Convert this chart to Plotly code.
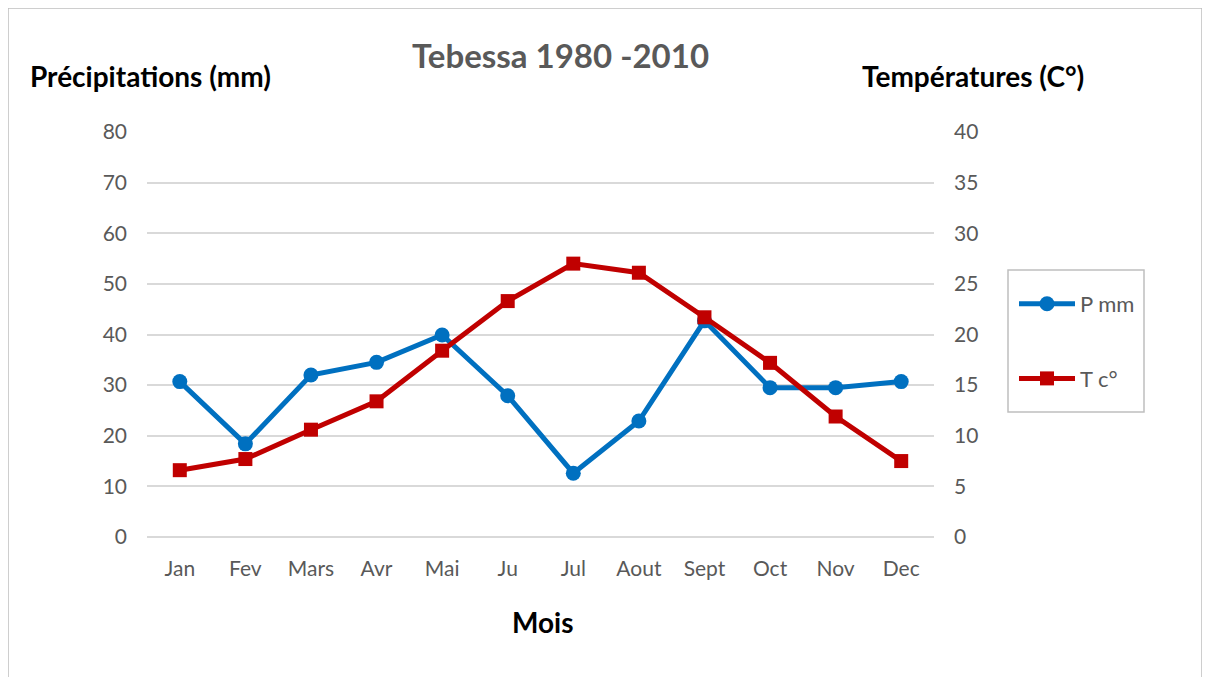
import plotly.graph_objects as go

months = ["Jan", "Fev", "Mars", "Avr", "Mai", "Ju", "Jul", "Aout", "Sept", "Oct", "Nov", "Dec"]
p_mm = [30.7, 18.4, 32.0, 34.5, 39.9, 27.9, 12.6, 22.9, 42.7, 29.5, 29.5, 30.7]
t_c = [6.6, 7.7, 10.6, 13.4, 18.4, 23.3, 27.0, 26.1, 21.7, 17.2, 11.9, 7.5]

FONT = "Lato"
GRAY = "#595959"

fig = go.Figure()
fig.add_trace(go.Scatter(
    x=months, y=p_mm, name="P mm", mode="lines+markers",
    line=dict(color="#0070C0", width=5),
    marker=dict(symbol="circle", size=15, color="#0070C0"),
    legendgroup="a", yaxis="y"))
fig.add_trace(go.Scatter(
    x=months, y=t_c, name="T c°", mode="lines+markers",
    line=dict(color="#C00000", width=5),
    marker=dict(symbol="square", size=14, color="#C00000"),
    legendgroup="b", yaxis="y2"))

OFF = 8  # page body margin
W, H = 1210 - OFF, 677 - OFF
L = 147 - OFF
T = 132 - OFF
R = W - (934 - OFF)
B = H - (537 - OFF)
pw = W - L - R
ph = H - T - B

def px(x):
    return (x - OFF - L) / pw

def py(y):
    return (H - B - (y - OFF)) / ph

fig.update_layout(
    width=W, height=H,
    margin=dict(l=L, r=R, t=T, b=B),
    paper_bgcolor="white", plot_bgcolor="white",
    font=dict(family=FONT, color=GRAY, size=21),
    showlegend=True,
    legend=dict(
        x=px(1014), y=py(283), xanchor="left", yanchor="top",
        bgcolor="rgba(0,0,0,0)", borderwidth=0,
        font=dict(size=22, color=GRAY, family=FONT),
        traceorder="grouped", tracegroupgap=43,
        itemwidth=56,
    ),
    xaxis=dict(
        range=[-0.5, 11.5],
        showgrid=False, showline=False, ticks="",
        tickfont=dict(size=21, color=GRAY),
        ticklabelstandoff=17,
    ),
    yaxis=dict(
        range=[0, 80], dtick=10, showgrid=True, gridcolor="#d9d9d9", gridwidth=1.5,
        zeroline=True, zerolinecolor="#d9d9d9", zerolinewidth=1.5,
        showline=False, ticks="", tickfont=dict(size=21, color=GRAY),
        ticklabelstandoff=19,
    ),
    yaxis2=dict(
        range=[0, 40], dtick=5, overlaying="y", side="right", showgrid=False,
        zeroline=False, showline=False, ticks="", tickfont=dict(size=21, color=GRAY),
        ticklabelstandoff=19,
    ),
    shapes=[
        dict(type="rect", xref="paper", yref="paper",
             x0=px(8), x1=px(1202), y0=py(700), y1=py(8),
             line=dict(color="#bfbfbf", width=1.5), fillcolor="rgba(0,0,0,0)", layer="below"),
        dict(type="rect", xref="paper", yref="paper",
             x0=px(1008), x1=px(1144), y0=py(412), y1=py(270),
             line=dict(color="#bfbfbf", width=1.5), fillcolor="white", layer="below"),
    ],
    annotations=[
        dict(text="<b>Tebessa 1980 -2010</b>", xref="paper", yref="paper",
             x=px(560), y=py(55), xanchor="center", yanchor="middle",
             showarrow=False, font=dict(size=33, color=GRAY, family=FONT)),
        dict(text="<b>Précipitations (mm)</b>", xref="paper", yref="paper",
             x=px(28), y=py(76), xanchor="left", yanchor="middle",
             showarrow=False, font=dict(size=28, color="black", family=FONT)),
        dict(text="<b>Températures (C°)</b>", xref="paper", yref="paper",
             x=px(1086), y=py(76), xanchor="right", yanchor="middle",
             showarrow=False, font=dict(size=28, color="black", family=FONT)),
        dict(text="<b>Mois</b>", xref="paper", yref="paper",
             x=px(543), y=py(622), xanchor="center", yanchor="middle",
             showarrow=False, font=dict(size=28, color="black", family=FONT)),
    ],
)

fig.write_html("out.html")
